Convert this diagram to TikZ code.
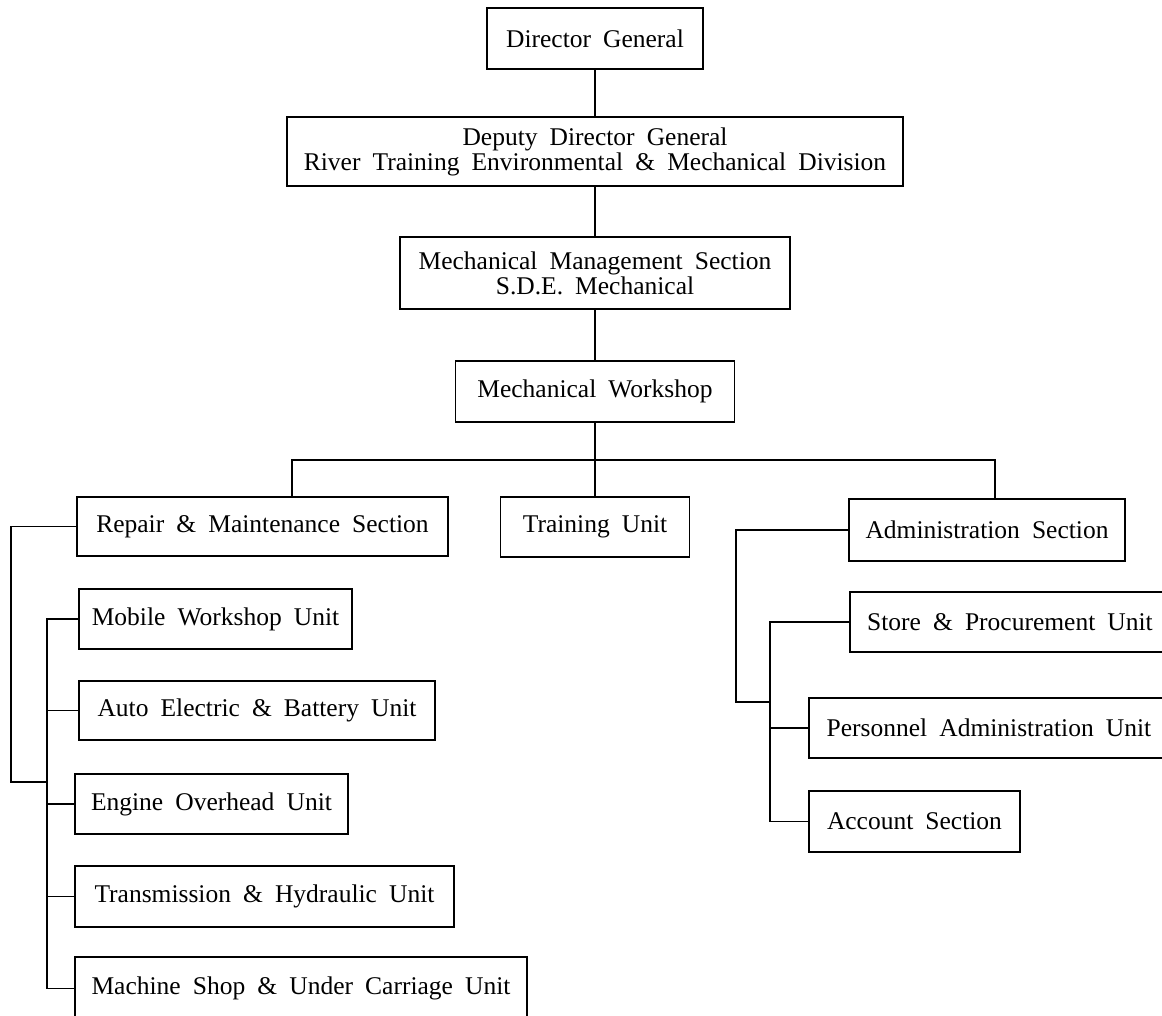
\documentclass[tikz,border=0pt]{standalone}
\usepackage{fontspec}
\setmainfont[WordSpace=1.9]{Liberation Serif}
\begin{document}
\begin{tikzpicture}[x=1pt,y=-1pt,
  bx/.style={draw, line width=1.5pt, rectangle, inner sep=0pt, align=center,
    font=\fontsize{25.5pt}{25pt}\selectfont},
  ln/.style={line width=1.5pt}]
\useasboundingbox (0,0) rectangle (1162,1016);
\fill[white] (0,0) rectangle (1162,1016);
\clip (0,0) rectangle (1162,1016);
% top chain
\node[bx, minimum width=216, minimum height=61] (dg) at (595,38.5) {Director General};
\node[bx, minimum width=616, minimum height=69] (ddg) at (595,151.5) {Deputy Director General\\River Training Environmental \& Mechanical Division};
\node[bx, minimum width=390, minimum height=72] (mms) at (595,273) {Mechanical Management Section\\S.D.E. Mechanical};
\node[bx, minimum width=279, minimum height=61] (mw) at (595,391.5) {Mechanical Workshop};
% second level
\node[bx, minimum width=371, minimum height=59] (rep) at (262.5,526.5) {Repair \& Maintenance Section};
\node[bx, minimum width=189, minimum height=60] (tu) at (595,527) {Training Unit};
\node[bx, minimum width=276, minimum height=62] (adm) at (987,530) {Administration Section};
% left units
\node[bx, minimum width=273, minimum height=60] (mob) at (215.5,619) {Mobile Workshop Unit};
\node[bx, minimum width=356, minimum height=59] (auto) at (257,710.5) {Auto Electric \& Battery Unit};
\node[bx, minimum width=273, minimum height=60] (eng) at (211.5,804) {Engine Overhead Unit};
\node[bx, minimum width=379, minimum height=61] (tra) at (264.5,896.5) {Transmission \& Hydraulic Unit};
\node[bx, minimum width=452, minimum height=63] (mac) at (301,988.5) {Machine Shop \& Under Carriage Unit};
% right units
\node[bx, minimum width=320, minimum height=60] (sto) at (1010,622) {Store \& Procurement Unit};
\node[bx, minimum width=360, minimum height=60] (per) at (989,728) {Personnel Administration Unit};
\node[bx, minimum width=211, minimum height=61] (acc) at (914.5,821.5) {Account Section};
% junction coordinates
\coordinate (barL) at (292,460);
\coordinate (barR) at (995,460);
\coordinate (lo) at (11,782);
\coordinate (lj) at (47,782);
\coordinate (ro) at (736,702);
\coordinate (rj) at (770,702);
% connectors
\draw[ln] (dg.south) -- (ddg.north);
\draw[ln] (ddg.south) -- (mms.north);
\draw[ln] (mms.south) -- (mw.north);
\draw[ln] (mw.south) -- (tu.north);
\draw[ln, line join=miter] (rep.north -| barL) -- (barL) -- (barR) -- (adm.north -| barR);
\draw[ln, line join=miter] (rep.west) -| (lo) -- (lj);
\draw[ln, line join=miter] (mob.west) -- (mob.west -| lj) -- (mac.west -| lj) -- (mac.west);
\draw[ln] (auto.west) -- (auto.west -| lj);
\draw[ln] (eng.west) -- (eng.west -| lj);
\draw[ln] (tra.west) -- (tra.west -| lj);
\draw[ln, line join=miter] (adm.west) -| (ro) -- (rj);
\draw[ln, line join=miter] (sto.west) -- (sto.west -| rj) -- (acc.west -| rj) -- (acc.west);
\draw[ln] (per.west) -- (per.west -| rj);
\end{tikzpicture}
\end{document}
